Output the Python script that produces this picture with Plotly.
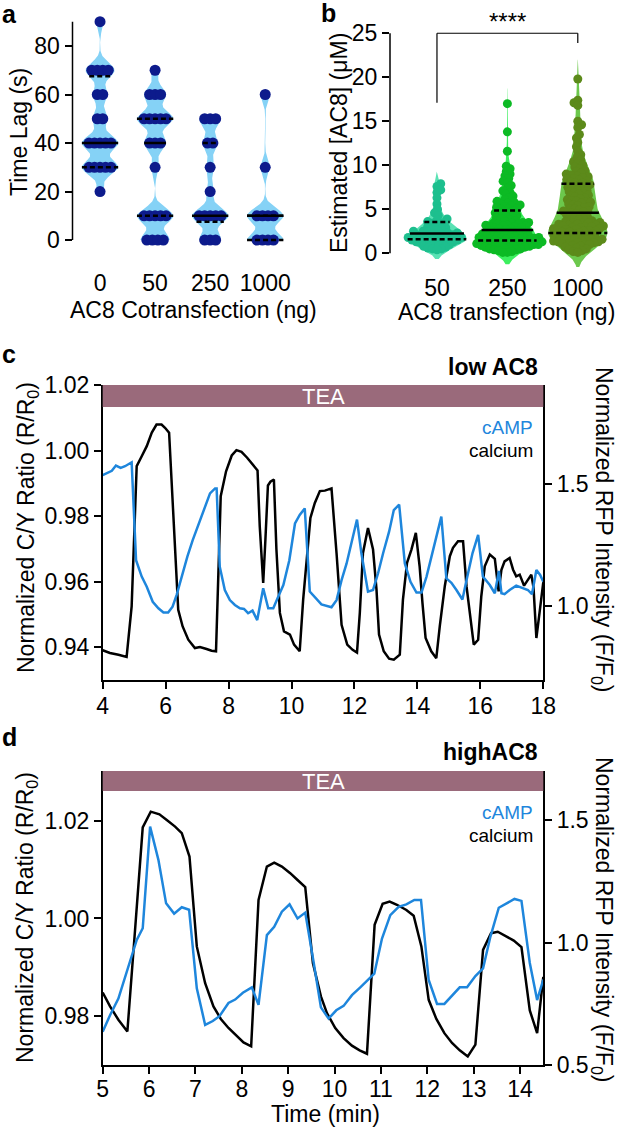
import numpy as np
import plotly.graph_objects as go

W, H = 617, 1137
FONT = "Liberation Sans, Arial, Helvetica, sans-serif"

# ---------------- data ----------------
# a: time lag (s) per AC8 cotransfection amount
lag_groups = ["0", "50", "250", "1000"]
lag_0 = [20, 30, 30, 30, 30, 30, 40, 40, 40, 40, 40, 50, 50, 60, 60, 70, 70, 70, 70, 90]
lag_50 = [0, 0, 0, 0, 10, 10, 10, 10, 10, 30, 40, 40, 40, 50, 50, 50, 50, 50, 60, 60, 60, 70]
lag_250 = [0, 0, 0, 10, 10, 10, 10, 10, 20, 30, 40, 40, 50, 50, 50]
lag_1000 = [0, 0, 0, 0, 10, 10, 10, 10, 30, 60]
lag_median = [40, 40, 10, 10]
lag_q1 = [30, 10, 7.5, 0]
lag_q3 = [67.5, 50, 40, 10]

# b: estimated [AC8] (uM) per AC8 transfection amount
ac8_groups = ["50", "250", "1000"]
ac8_50 = [7.9, 7.6, 7.2, 6.9, 6.3, 5.6, 5.0, 4.6, 4.3, 3.9, 3.8, 3.6, 3.5, 3.4, 3.3, 3.1, 3.0, 2.9,
          2.8, 2.7, 2.6, 2.5, 2.5, 2.4, 2.3, 2.3, 2.2, 2.2, 2.1, 2.1, 2.0, 2.0, 1.9, 1.9, 1.8, 1.8,
          1.7, 1.7, 1.6, 1.6, 1.5, 1.5, 1.5, 1.4, 1.4, 1.3, 1.3, 1.2, 1.2, 1.1, 1.0, 1.0, 0.9, 0.8,
          0.7, 0.6, 0.5, 0.5, 0.4]
ac8_250 = [17.0, 13.8, 11.6, 9.9, 9.6, 9.3, 9.0, 8.8, 8.5, 8.2, 8.0, 7.7, 7.4, 7.1, 6.9, 6.7, 6.5,
           6.3, 6.1, 5.9, 5.8, 5.7, 5.6, 5.5, 5.4, 5.3, 5.2, 5.1, 5.0, 5.0,
           4.8, 4.7, 4.6, 4.5, 4.4, 4.3, 4.2, 4.1, 4.0, 3.9, 3.8, 3.7, 3.6, 3.5, 3.5, 3.4, 3.4,
           3.3, 3.3, 3.2, 3.2, 3.1, 3.1, 3.0, 3.0, 2.9, 2.9, 2.8, 2.8, 2.7,
           2.6, 2.6, 2.5, 2.5, 2.4, 2.4, 2.3, 2.3, 2.2, 2.2, 2.1, 2.1, 2.0, 2.0, 2.0, 1.9, 1.9,
           1.8, 1.8, 1.8, 1.7, 1.7, 1.7, 1.6, 1.6, 1.6, 1.5, 1.5, 1.5, 1.4,
           1.3, 1.3, 1.3, 1.2, 1.2, 1.2, 1.1, 1.1, 1.1, 1.0, 1.0, 1.0, 0.9, 0.9, 0.9, 0.8, 0.8,
           0.8, 0.7, 0.7, 0.6, 0.6, 0.5, 0.5, 0.4, 0.4, 0.3, 0.2, 0.1, 0.1]
ac8_1000 = [19.8, 17.4, 17.1, 16.8, 15.0, 14.6, 14.3, 13.5, 13.1, 12.6, 12.1, 11.6, 11.2, 10.9,
            10.6, 10.4, 10.2, 10.0, 9.8, 9.6, 9.4, 9.3, 9.1, 9.0, 8.9, 8.8, 8.7, 8.6, 8.5, 8.4,
            8.3, 8.2, 8.1, 8.0, 8.0,
            7.8, 7.7, 7.6, 7.5, 7.4, 7.3, 7.2, 7.1, 7.0, 6.9, 6.8, 6.7, 6.6, 6.5, 6.4, 6.3, 6.2,
            6.1, 6.0, 5.9, 5.8, 5.8, 5.7, 5.6, 5.5, 5.4, 5.3, 5.2, 5.1, 5.0, 4.9, 4.8, 4.8, 4.7, 4.6,
            4.5, 4.4, 4.3, 4.2, 4.1, 4.0, 3.9, 3.8, 3.7, 3.6, 3.5, 3.5, 3.4, 3.4, 3.3, 3.3, 3.2,
            3.2, 3.1, 3.1, 3.0, 3.0, 2.9, 2.9, 2.8, 2.8, 2.7, 2.7, 2.6, 2.6, 2.5, 2.5, 2.4, 2.4, 2.3,
            2.2, 2.2, 2.1, 2.1, 2.0, 2.0, 1.9, 1.9, 1.8, 1.8, 1.7, 1.7, 1.6, 1.6, 1.5, 1.5, 1.4,
            1.4, 1.3, 1.3, 1.2, 1.2, 1.1, 1.1, 1.0, 1.0, 0.9, 0.8, 0.7, 0.6, 0.5, 0.4, 0.3, 0.2, 0.1]
ac8_median = [2.25, 2.65, 4.6]
ac8_q1 = [1.6, 1.45, 2.3]
ac8_q3 = [3.55, 4.85, 7.9]

# c: low AC8 traces
low_camp_t = [4.00, 4.13, 4.29, 4.42, 4.57, 4.71, 4.92, 5.06, 5.24, 5.40, 5.59, 5.77, 5.93, 6.08,
              6.22, 6.35, 6.51, 6.69, 6.86, 7.04, 7.25, 7.41, 7.57, 7.62, 7.72, 7.88, 8.04, 8.20,
              8.36, 8.49, 8.62, 8.76, 8.91, 9.10, 9.26, 9.42, 9.58, 9.74, 9.93, 10.11, 10.26,
              10.42, 10.58, 10.79, 10.95, 11.27, 11.43, 11.59, 11.75, 11.90, 12.08, 12.22, 12.43,
              12.59, 12.75, 12.91, 13.10, 13.25, 13.42, 13.60, 13.78, 13.97, 14.13, 14.29, 14.44,
              14.60, 14.76, 14.92, 15.08, 15.24, 15.43, 15.56, 15.75, 15.93, 16.08, 16.30, 16.46,
              16.59, 16.67, 16.77, 16.93, 17.14, 17.35, 17.51, 17.64, 17.78, 17.90, 18.00]
low_camp = [0.9926, 0.9933, 0.9939, 0.9955, 0.9948, 0.9953, 0.9965, 0.9666, 0.9616, 0.9585, 0.9539,
            0.9519, 0.9506, 0.9506, 0.9524, 0.9560, 0.9616, 0.9677, 0.9727, 0.9773, 0.9824, 0.9870,
            0.9885, 0.9885, 0.9646, 0.9575, 0.9544, 0.9529, 0.9519, 0.9517, 0.9504, 0.9512, 0.9483,
            0.9580, 0.9519, 0.9519, 0.9555, 0.9590, 0.9666, 0.9778, 0.9804, 0.9824, 0.9570, 0.9546,
            0.9531, 0.9522, 0.9544, 0.9605, 0.9656, 0.9717, 0.9790, 0.9687, 0.9570, 0.9575, 0.9626,
            0.9687, 0.9753, 0.9819, 0.9836, 0.9656, 0.9600, 0.9567, 0.9567, 0.9616, 0.9677, 0.9738,
            0.9799, 0.9610, 0.9597, 0.9575, 0.9546, 0.9605, 0.9687, 0.9743, 0.9616, 0.9590, 0.9565,
            0.9633, 0.9565, 0.9562, 0.9575, 0.9588, 0.9580, 0.9575, 0.9562, 0.9636, 0.9621, 0.9600]
low_ca_t = [4.00, 4.23, 4.50, 4.76, 4.92, 4.99, 5.08, 5.24, 5.40, 5.56, 5.71, 5.87, 5.98, 6.11,
            6.19, 6.30, 6.40, 6.54, 6.72, 6.93, 7.09, 7.30, 7.46, 7.60, 7.67, 7.75, 7.92, 8.10,
            8.25, 8.41, 8.59, 8.76, 8.92, 8.99, 9.10, 9.17, 9.25, 9.33, 9.44, 9.52, 9.63, 9.76,
            9.95, 10.08, 10.26, 10.37, 10.53, 10.60, 10.74, 10.90, 11.06, 11.22, 11.27, 11.43,
            11.59, 11.77, 11.94, 12.08, 12.17, 12.27, 12.43, 12.59, 12.70, 12.78, 12.93, 13.10,
            13.25, 13.44, 13.54, 13.67, 13.81, 13.95, 14.07, 14.16, 14.26, 14.44, 14.60, 14.71,
            14.87, 15.03, 15.13, 15.29, 15.45, 15.56, 15.68, 15.79, 15.93, 16.03, 16.14, 16.30,
            16.46, 16.58, 16.67, 16.77, 16.93, 17.04, 17.14, 17.25, 17.39, 17.51, 17.62, 17.69,
            17.78, 17.88, 17.97, 18.00]
low_ca = [0.821, 0.810, 0.803, 0.794, 1.000, 1.231, 1.571, 1.611, 1.652, 1.707, 1.740, 1.740, 1.727,
          1.707, 1.503, 1.272, 0.986, 0.918, 0.864, 0.830, 0.834, 0.826, 0.819, 0.817, 1.163, 1.448,
          1.550, 1.614, 1.636, 1.629, 1.605, 1.577, 1.553, 1.326, 1.095, 1.272, 1.492, 1.507, 1.516,
          1.231, 0.973, 0.898, 0.885, 0.844, 0.817, 1.027, 1.258, 1.360, 1.421, 1.469, 1.471, 1.478,
          1.480, 1.217, 0.925, 0.844, 0.823, 0.812, 0.973, 1.217, 1.319, 1.231, 1.068, 0.885, 0.817,
          0.787, 0.783, 0.803, 1.027, 1.177, 1.231, 1.299, 1.163, 1.014, 0.871, 0.817, 0.789, 0.918,
          1.082, 1.204, 1.238, 1.265, 1.265, 1.082, 0.959, 0.844, 0.864, 1.041, 1.163, 1.211, 1.193,
          1.061, 1.149, 1.183, 1.197, 1.149, 1.122, 1.129, 1.084, 1.109, 1.129, 1.075, 0.871, 0.973,
          1.075, 1.098]

# d: high AC8 traces
high_camp_t = [5.000, 5.158, 5.338, 5.482, 5.626, 5.734, 5.863, 6.022, 6.201, 6.367, 6.540, 6.705,
               6.863, 7.029, 7.209, 7.374, 7.518, 7.712, 7.856, 8.022, 8.216, 8.360, 8.540, 8.698,
               8.863, 9.029, 9.201, 9.367, 9.547, 9.705, 9.871, 10.036, 10.194, 10.374, 10.554,
               10.698, 10.856, 11.022, 11.201, 11.381, 11.547, 11.719, 11.863, 12.029, 12.209,
               12.367, 12.532, 12.698, 12.856, 13.036, 13.201, 13.360, 13.540, 13.719, 13.878,
               14.029, 14.209, 14.367, 14.500]
high_camp = [0.9768, 0.9802, 0.9836, 0.9881, 0.9925, 0.9956, 0.9980, 1.0188, 1.0120, 1.0031, 1.0010,
             1.0023, 1.0018, 0.9857, 0.9782, 0.9790, 0.9800, 0.9827, 0.9834, 0.9848, 0.9859, 0.9823,
             0.9966, 0.9983, 1.0014, 1.0029, 1.0000, 1.0012, 0.9911, 0.9818, 0.9795, 0.9812, 0.9821,
             0.9843, 0.9859, 0.9872, 0.9887, 0.9959, 1.0007, 1.0024, 1.0029, 1.0038, 1.0038, 0.9874,
             0.9825, 0.9825, 0.9841, 0.9859, 0.9859, 0.9882, 0.9898, 0.9963, 1.0022, 1.0031, 1.0040,
             1.0036, 0.9909, 0.9833, 0.9875]
high_ca_t = [5.000, 5.158, 5.338, 5.532, 5.698, 5.863, 6.036, 6.223, 6.381, 6.561, 6.705, 6.871,
             7.029, 7.209, 7.388, 7.547, 7.712, 7.892, 8.036, 8.201, 8.360, 8.540, 8.698, 8.863,
             9.043, 9.201, 9.367, 9.532, 9.705, 9.835, 10.014, 10.194, 10.374, 10.540, 10.698,
             10.863, 11.036, 11.187, 11.345, 11.547, 11.705, 11.871, 12.029, 12.194, 12.367,
             12.532, 12.698, 12.871, 13.036, 13.201, 13.374, 13.518, 13.683, 13.863, 14.029,
             14.209, 14.367, 14.500]
high_ca = [0.796, 0.739, 0.685, 0.637, 1.052, 1.470, 1.534, 1.523, 1.500, 1.473, 1.446, 1.351, 0.984,
           0.834, 0.739, 0.688, 0.651, 0.617, 0.592, 0.576, 1.174, 1.310, 1.326, 1.310, 1.283, 1.255,
           1.226, 0.916, 0.780, 0.712, 0.651, 0.610, 0.579, 0.560, 0.546, 1.072, 1.158, 1.167, 1.154,
           1.133, 1.109, 0.984, 0.766, 0.688, 0.630, 0.590, 0.560, 0.535, 0.583, 0.970, 1.038, 1.044,
           1.027, 1.008, 0.981, 0.723, 0.630, 0.860]

# ---------------- styling ----------------
LAG_DOT = "#0d1b8c"
LAG_VIOLIN = "#85d2f6"
AC8_DOT = ["#1dbf8e", "#0cba24", "#5c8a1a"]
AC8_VIOLIN = ["#5ae2b4", "#3cef5e", "#6cc84c"]
CAMP_BLUE = "#1e86dc"
TEA_COLOR = "#9a6a7b"


def px(x):
    return x / W


def py(y):
    return 1 - y / H


def violin_half(vals, bw, lo, hi, maxw, n=300):
    ys = np.linspace(lo, hi, n)
    v = np.asarray(vals, float)[:, None]
    dens = np.exp(-0.5 * ((ys[None, :] - v) / bw) ** 2).sum(axis=0)
    return ys, dens / dens.max() * maxw


def row_offsets(vals, step):
    vals = np.asarray(vals, float)
    xs = np.zeros(len(vals))
    for v in np.unique(vals):
        idx = np.where(vals == v)[0]
        xs[idx] = (np.arange(len(idx)) - (len(idx) - 1) / 2) * step
    return xs


def swarm_offsets(vals, ppu_y, ppu_x, d):
    # simple beeswarm in pixel space, result in x-axis units
    ypx = np.asarray(vals, float) * ppu_y
    out = np.zeros(len(ypx))
    placed = []
    for n, i in enumerate(np.argsort(ypx, kind="stable")):
        spans = []
        for qy, qx in placed:
            dy = abs(qy - ypx[i])
            if dy < d:
                h = np.sqrt(d * d - dy * dy)
                spans.append((qx - h, qx + h))
        cands = [0.0] + [a for a, b in spans] + [b for a, b in spans]
        ok = [c for c in cands if all(not (a + 1e-6 < c < b - 1e-6) for a, b in spans)]
        sgn = 1 if n % 2 else -1
        best = min(ok, key=lambda c: (round(abs(c), 4), sgn * c))
        out[i] = best
        placed.append((ypx[i], best))
    return out / ppu_x


fig = go.Figure()

# ---------------- panel a ----------------
A_X = (72.5, 290.0)
A_XR = (-0.5, 3.45)
A_Y = (19.3, 244.9)
A_YR = (-2, 91)
a_ppu_x = (A_X[1] - A_X[0]) / (A_XR[1] - A_XR[0])

lag_sets = [lag_0, lag_50, lag_250, lag_1000]
for i, vals in enumerate(lag_sets):
    ys, half = violin_half(vals, 3.1, min(vals), max(vals), 0.33)
    fig.add_trace(go.Scatter(x=np.r_[i + half, (i - half)[::-1]], y=np.r_[ys, ys[::-1]],
                             fill="toself", fillcolor=LAG_VIOLIN, line=dict(width=0),
                             mode="lines", xaxis="x", yaxis="y", hoverinfo="skip"))
    fig.add_trace(go.Scatter(x=i + row_offsets(vals, 5.5 / a_ppu_x), y=vals, mode="markers",
                             marker=dict(size=11, color=LAG_DOT), cliponaxis=False,
                             xaxis="x", yaxis="y"))
    for q, dash in [(lag_median[i], "solid"), (lag_q1[i], "5px,3px"), (lag_q3[i], "5px,3px")]:
        w = np.interp(q, ys, half)
        fig.add_trace(go.Scatter(x=[i - w, i + w], y=[q, q], mode="lines",
                                 line=dict(color="black", width=2.5, dash=dash),
                                 xaxis="x", yaxis="y", hoverinfo="skip"))

# ---------------- panel b ----------------
B_X = (390.0, 613.0)
B_XR = (-0.667, 2.5)
B_Y = (31.5, 270.9)
B_YR = (-2, 25.2)
b_ppu_x = (B_X[1] - B_X[0]) / (B_XR[1] - B_XR[0])
b_ppu_y = (B_Y[1] - B_Y[0]) / (B_YR[1] - B_YR[0])

ac8_sets = [ac8_50, ac8_250, ac8_1000]
for i, vals in enumerate(ac8_sets):
    bw = [0.7, 0.9, 1.1][i]
    ys, half = violin_half(vals, bw, min(vals) - 1.5 * bw, max(vals) + 2 * bw, 0.42)
    fig.add_trace(go.Scatter(x=np.r_[i + half, (i - half)[::-1]], y=np.r_[ys, ys[::-1]],
                             fill="toself", fillcolor=AC8_VIOLIN[i], line=dict(width=0),
                             mode="lines", xaxis="x2", yaxis="y2", hoverinfo="skip"))
    fig.add_trace(go.Scatter(x=i + swarm_offsets(vals, b_ppu_y, b_ppu_x, 4.6), y=vals,
                             mode="markers", marker=dict(size=9, color=AC8_DOT[i]),
                             cliponaxis=False, xaxis="x2", yaxis="y2"))
    for q, dash in [(ac8_median[i], "solid"), (ac8_q1[i], "5px,3px"), (ac8_q3[i], "5px,3px")]:
        w = np.interp(q, ys, half)
        fig.add_trace(go.Scatter(x=[i - w, i + w], y=[q, q], mode="lines",
                                 line=dict(color="black", width=2.5, dash=dash),
                                 xaxis="x2", yaxis="y2", hoverinfo="skip"))

# ---------------- panels c and d ----------------
fig.add_trace(go.Scatter(x=low_ca_t, y=low_ca, mode="lines", line=dict(color="black", width=2.5),
                         xaxis="x3", yaxis="y3"))
fig.add_trace(go.Scatter(x=low_camp_t, y=low_camp, mode="lines",
                         line=dict(color=CAMP_BLUE, width=2.5), xaxis="x3", yaxis="y4"))
fig.add_trace(go.Scatter(x=high_ca_t, y=high_ca, mode="lines", line=dict(color="black", width=2.5),
                         xaxis="x4", yaxis="y5"))
fig.add_trace(go.Scatter(x=high_camp_t, y=high_camp, mode="lines",
                         line=dict(color=CAMP_BLUE, width=2.5), xaxis="x4", yaxis="y6"))

tick = dict(size=23, color="black", family=FONT)
common = dict(showgrid=False, zeroline=False, fixedrange=True, automargin=False, tickfont=tick)
line_ax = dict(showline=True, linecolor="black", linewidth=1.5, ticks="outside", ticklen=7,
               tickwidth=1.5, tickcolor="black", **common)

C_Y = (385.0, 680.0)
D_Y = (771.0, 1065.0)
CD_X = (102.7, 543.3)

fig.update_layout(
    template="none",
    width=W, height=H, autosize=False, showlegend=False,
    margin=dict(l=0, r=0, t=0, b=0, pad=0),
    paper_bgcolor="white", plot_bgcolor="rgba(0,0,0,0)",
    font=dict(family=FONT, color="black", size=23),
    xaxis=dict(domain=[px(A_X[0]), px(A_X[1])], range=list(A_XR), anchor="y",
               tickvals=[0, 1, 2, 3], ticktext=lag_groups, showline=False, ticks="outside",
               ticklen=17, tickcolor="rgba(0,0,0,0)", **common),
    yaxis=dict(domain=[py(A_Y[1]), py(A_Y[0])], range=list(A_YR), anchor="x",
               tickvals=[0, 20, 40, 60, 80], showline=False, ticks="outside", ticklen=7,
               tickwidth=1.5, tickcolor="black", **common),
    xaxis2=dict(domain=[px(B_X[0]), px(B_X[1])], range=list(B_XR), anchor="y2",
                tickvals=[0, 1, 2], ticktext=ac8_groups, showline=False, ticks="outside",
                ticklen=0, tickcolor="rgba(0,0,0,0)", ticklabelstandoff=-4, **common),
    yaxis2=dict(domain=[py(B_Y[1]), py(B_Y[0])], range=list(B_YR), anchor="x2",
                tickvals=[0, 5, 10, 15, 20, 25], showline=False, ticks="outside", ticklen=7,
                tickwidth=1.5, tickcolor="black", **common),
    xaxis3=dict(domain=[px(CD_X[0]), px(CD_X[1])], range=[4, 18], anchor="y3",
                tickvals=list(range(4, 19, 2)), ticklabelstandoff=-2, **line_ax),
    yaxis3=dict(domain=[py(C_Y[1]), py(C_Y[0])], range=[0.700, 1.901], anchor="x3", side="right",
                tickvals=[1.0, 1.5], ticktext=["1.0", "1.5"], **line_ax),
    yaxis4=dict(range=[0.930, 1.0201], anchor="x3", overlaying="y3", side="left",
                tickvals=[0.94, 0.96, 0.98, 1.00, 1.02],
                ticktext=["0.94", "0.96", "0.98", "1.00", "1.02"], **line_ax),
    xaxis4=dict(domain=[px(CD_X[0]), px(CD_X[1])], range=[5, 14.5], anchor="y5",
                tickvals=list(range(5, 15)), ticklabelstandoff=-4, **line_ax),
    yaxis5=dict(domain=[py(D_Y[1]), py(D_Y[0])], range=[0.5, 1.70], anchor="x4", side="right",
                tickvals=[0.5, 1.0, 1.5], ticktext=["0.5", "1.0", "1.5"], **line_ax),
    yaxis6=dict(range=[0.970, 1.0302], anchor="x4", overlaying="y5", side="left",
                tickvals=[0.98, 1.00, 1.02], ticktext=["0.98", "1.00", "1.02"], **line_ax),
)

shapes = [
    # y axis lines of a and b stop at the data range
    dict(type="line", xref="x domain", x0=0, x1=0, yref="y", y0=0, y1=90,
         line=dict(color="black", width=1.5)),
    dict(type="line", xref="x2 domain", x0=0, x1=0, yref="y2", y0=0, y1=25,
         line=dict(color="black", width=1.5)),
    # significance bracket
    dict(type="line", xref="x2", yref="y2", x0=0, x1=2, y0=25, y1=25,
         line=dict(color="black", width=1.2)),
    dict(type="line", xref="x2", yref="y2", x0=0, x1=0, y0=25, y1=17.1,
         line=dict(color="black", width=1.2)),
    dict(type="line", xref="x2", yref="y2", x0=2, x1=2, y0=25, y1=23.9,
         line=dict(color="black", width=1.2)),
    # TEA bars
    dict(type="rect", xref="x3 domain", yref="y3 domain", x0=0, x1=1, y0=1 - 22 / 295, y1=1,
         fillcolor=TEA_COLOR, line=dict(width=0), layer="above"),
    dict(type="rect", xref="x4 domain", yref="y5 domain", x0=0, x1=1, y0=1 - 20 / 294, y1=1,
         fillcolor=TEA_COLOR, line=dict(width=0), layer="above"),
]
fig.update_layout(shapes=shapes)


def note(text, x, y, size=23, color="black", angle=0, xanchor="center", **kw):
    fig.add_annotation(text=text, x=px(x), y=py(y), xref="paper", yref="paper",
                       showarrow=False, textangle=angle, xanchor=xanchor, yanchor="middle",
                       font=dict(size=size, color=color, family=FONT), **kw)


# panel letters
note("<b>a</b>", 9, 14, size=25)
note("<b>b</b>", 328, 13, size=25)
note("<b>c</b>", 9, 354, size=25)
note("<b>d</b>", 9, 737, size=25)

# axis titles
note("Time Lag (s)", 19, 132, angle=-90)
note("AC8 Cotransfection (ng)", 193, 310)
note("Estimated [AC8] (μM)", 339, 143, angle=-90)
note("AC8 transfection (ng)", 506, 312)
note("****", 507, 21, size=24)
note("Normalized C/Y Ratio (R/R<sub>0</sub>)", 27, 528, angle=-90)
note("Normalized RFP Intensity (F/F<sub>0</sub>)", 603, 530, angle=90)
note("Normalized C/Y Ratio (R/R<sub>0</sub>)", 27, 918, angle=-90)
note("Normalized RFP Intensity (F/F<sub>0</sub>)", 603, 920, angle=90)
note("Time (min)", 325, 1114)

# panel titles, TEA labels and legends
note("<b>low AC8</b>", 540, 367, xanchor="right")
note("<b>highAC8</b>", 540, 752, xanchor="right")
note("TEA", 323, 396, size=22, color="white")
note("TEA", 323, 781, size=22, color="white")
note("cAMP", 535, 427, size=19, color=CAMP_BLUE, xanchor="right")
note("calcium", 535, 450, size=19, xanchor="right")
note("cAMP", 535, 812, size=19, color=CAMP_BLUE, xanchor="right")
note("calcium", 535, 835, size=19, xanchor="right")

# the page body has a default 8px margin; drop it so the figure fills the window
fig.write_html("out.html", config={"displayModeBar": False},
               post_script="document.body.style.margin = '0';")
